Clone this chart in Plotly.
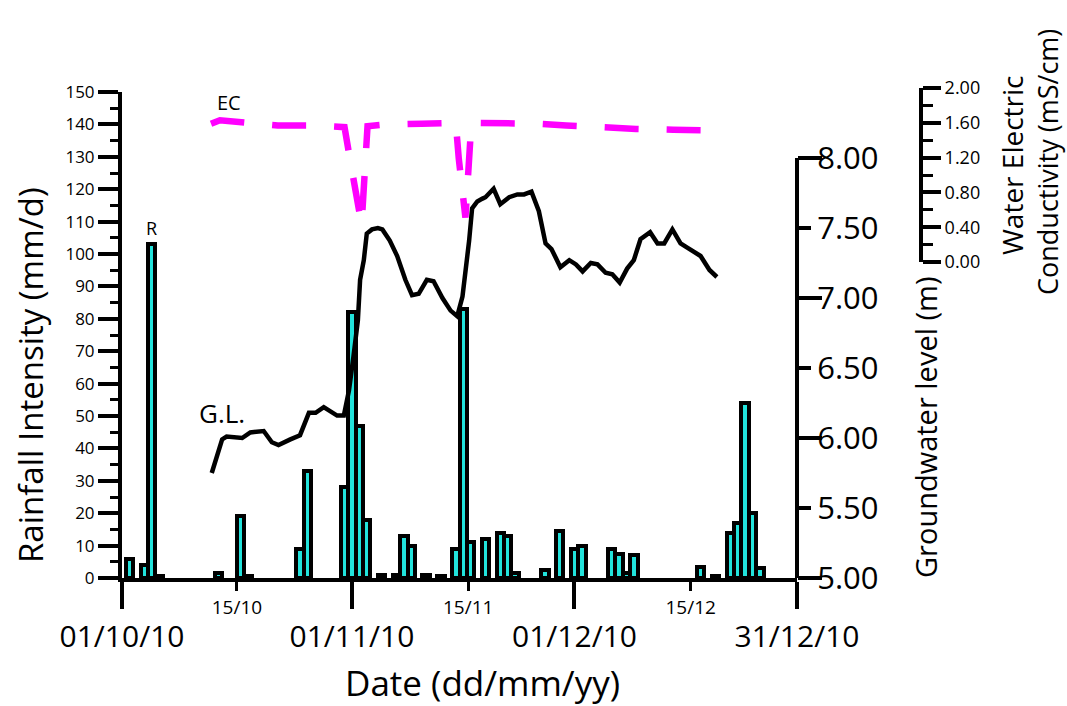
import pandas as pd
import plotly.graph_objects as go

# Daily rainfall (mm/d)
rain_dates = [
    "2010-10-02", "2010-10-04", "2010-10-05", "2010-10-06", "2010-10-14",
    "2010-10-17", "2010-10-18", "2010-10-25", "2010-10-26", "2010-10-31",
    "2010-11-01", "2010-11-02", "2010-11-03", "2010-11-05", "2010-11-07",
    "2010-11-08", "2010-11-09", "2010-11-11", "2010-11-13", "2010-11-15",
    "2010-11-16", "2010-11-17", "2010-11-19", "2010-11-21", "2010-11-22",
    "2010-11-23", "2010-11-27", "2010-11-29", "2010-12-01", "2010-12-02",
    "2010-12-06", "2010-12-07", "2010-12-08", "2010-12-09", "2010-12-18",
    "2010-12-20", "2010-12-22", "2010-12-23", "2010-12-24", "2010-12-25",
    "2010-12-26",
]
rain_mm = [
    6, 4, 103, 0.5, 1.5,
    19, 0.5, 9, 33, 28,
    82, 47, 18, 1, 0.8,
    13, 10, 1, 0.5, 9,
    83, 11, 12, 14, 13,
    1.5, 2.5, 14.5, 9, 10,
    9, 7.5, 1.5, 7, 3.5,
    0.5, 14, 17, 54, 20,
    3,
]

# Groundwater level (m), time in days after 01/10/2010
gl_days = [
    12.1, 13.5, 14.1, 16.2, 17.3, 19.1, 20.2, 21.1, 22.7, 24.0,
    25.2, 26.1, 27.2, 29.0, 29.9, 30.6, 31.2, 31.8, 32.1, 32.6,
    33.0, 33.7, 34.5, 35.1, 36.1, 37.1, 38.2, 39.1, 40.0, 41.1,
    42.0, 43.2, 44.3, 45.2, 45.9, 46.3, 46.8, 47.2, 47.9, 48.6,
    49.0, 50.1, 51.0, 52.2, 53.3, 54.2, 55.2, 56.2, 57.1, 57.9,
    59.1, 60.3, 61.2, 62.1, 63.2, 64.1, 65.2, 66.1, 67.1, 68.1,
    69.0, 69.9, 71.2, 72.2, 73.1, 74.2, 75.3, 76.2, 78.0, 79.2,
    80.2,
]
gl_m = [
    5.75, 5.99, 6.01, 6.00, 6.04, 6.05, 5.97, 5.95, 5.99, 6.02,
    6.18, 6.18, 6.22, 6.16, 6.16, 6.34, 6.58, 6.84, 7.13, 7.27,
    7.46, 7.49, 7.50, 7.49, 7.41, 7.30, 7.13, 7.02, 7.03, 7.13,
    7.12, 7.00, 6.91, 6.87, 7.01, 7.18, 7.41, 7.64, 7.69, 7.71,
    7.72, 7.78, 7.67, 7.72, 7.74, 7.74, 7.76, 7.62, 7.39, 7.35,
    7.22, 7.27, 7.24, 7.19, 7.25, 7.24, 7.18, 7.17, 7.11, 7.21,
    7.27, 7.42, 7.47, 7.39, 7.39, 7.49, 7.39, 7.36, 7.30, 7.20,
    7.15,
]

# Water electric conductivity (mS/cm), time in days after 01/10/2010
ec_days = [
    12.0, 13.2, 16.9, 21.0, 26.3, 30.0, 30.9, 32.3, 33.1, 35.5,
    40.4, 45.0, 45.4, 46.3, 47.1, 50.8, 55.9, 59.9, 65.0, 69.3,
    74.3, 80.3,
]
ec_ms = [
    1.59, 1.63, 1.60, 1.57, 1.57, 1.55, 1.10, 0.43, 1.56, 1.58,
    1.59, 1.60, 1.19, 0.51, 1.60, 1.60, 1.59, 1.57, 1.54, 1.53,
    1.52, 1.51,
]

x_range = ["2010-10-01", "2010-12-31"]
major_tick_dates = ["2010-10-01", "2010-11-01", "2010-12-01", "2010-12-31"]
major_tick_text = ["01/10/10", "01/11/10", "01/12/10", "31/12/10"]
mid_tick_dates = ["2010-10-16 12:00", "2010-11-16 16:00", "2010-12-16 16:00"]
mid_tick_text = ["15/10", "15/11", "15/12"]

FONT = "Open Sans"
W, H = 1067, 706


def px_x(p):
    return p / W


def px_y(p):
    return 1 - p / H


start = pd.Timestamp("2010-10-01")
gl_x = start + pd.to_timedelta(gl_days, unit="D")
ec_x = start + pd.to_timedelta(ec_days, unit="D")

fig = go.Figure()

fig.add_trace(go.Bar(
    x=rain_dates, y=rain_mm, width=86400000,
    marker=dict(color="#22e3dc", line=dict(color="black", width=4)),
    xaxis="x", yaxis="y", showlegend=False,
))
fig.add_trace(go.Scatter(
    x=gl_x, y=gl_m, mode="lines",
    line=dict(color="black", width=4.5),
    xaxis="x", yaxis="y2", showlegend=False,
))
fig.add_trace(go.Scatter(
    x=ec_x, y=ec_ms, mode="lines",
    line=dict(color="#ff00ff", width=6.5, dash="34px,28px"),
    xaxis="x", yaxis="y3", showlegend=False,
))
# helper traces so the overlay axes get drawn
fig.add_trace(go.Scatter(x=[x_range[0]], y=[0], mode="markers", marker=dict(opacity=0),
                         xaxis="x2", yaxis="y", showlegend=False, hoverinfo="skip"))
fig.add_trace(go.Scatter(x=[x_range[0]], y=[5], mode="markers", marker=dict(opacity=0),
                         xaxis="x", yaxis="y4", showlegend=False, hoverinfo="skip"))

x_dom = [px_x(122), px_x(797)]
axis_common = dict(showgrid=False, zeroline=False, linecolor="black", tickcolor="black",
                   showline=True, ticks="outside")

fig.update_layout(
    width=W, height=H, autosize=False,
    margin=dict(l=0, r=0, t=0, b=0, autoexpand=False),
    paper_bgcolor="white", plot_bgcolor="rgba(0,0,0,0)",
    font=dict(family=FONT, color="black"),
    bargap=0,
    xaxis=dict(
        **axis_common, type="date", range=x_range, domain=x_dom, anchor="y",
        tickmode="array", tickvals=major_tick_dates, ticktext=major_tick_text,
        ticklen=27, tickwidth=3.5, linewidth=4,
        tickfont=dict(size=30, family=FONT), ticklabelstandoff=2,
    ),
    xaxis2=dict(
        showgrid=False, zeroline=False, showline=False, ticks="outside",
        type="date", range=x_range, overlaying="x", anchor="y", side="bottom",
        tickmode="array", tickvals=mid_tick_dates, ticktext=mid_tick_text,
        ticklen=12, tickwidth=3, tickcolor="black",
        tickfont=dict(size=19, family=FONT),
    ),
    yaxis=dict(
        **axis_common, range=[0, 150], domain=[px_y(578), px_y(92)], anchor="x",
        tickmode="linear", tick0=0, dtick=10, ticklen=20, tickwidth=3.5, linewidth=4,
        minor=dict(dtick=5, tick0=0, ticklen=8, tickwidth=3, ticks="outside", tickcolor="black"),
        tickfont=dict(size=17, family=FONT),
    ),
    yaxis2=dict(
        **axis_common, range=[5, 8], domain=[px_y(578), px_y(158)],
        anchor="free", position=x_dom[1], side="right",
        tickmode="linear", tick0=5, dtick=0.5, tickformat=".2f",
        ticklen=12, tickwidth=3.5, linewidth=4,
        tickfont=dict(size=31, family=FONT),
    ),
    yaxis4=dict(
        showgrid=False, zeroline=False, showline=False, ticks="outside",
        range=[5, 8], overlaying="y2", anchor="free", position=x_dom[1], side="right",
        tickmode="linear", tick0=5, dtick=1, ticklen=24, tickwidth=3.5,
        tickcolor="black", showticklabels=False,
    ),
    yaxis3=dict(
        **axis_common, range=[0, 2], domain=[px_y(262), px_y(88)],
        anchor="free", position=px_x(921), side="right",
        tickmode="linear", tick0=0, dtick=0.4, tickformat=".2f",
        ticklen=18, tickwidth=3.5, linewidth=4,
        minor=dict(dtick=0.2, tick0=0, ticklen=10, tickwidth=3, ticks="outside", tickcolor="black"),
        tickfont=dict(size=18, family=FONT),
    ),
)

annotations = [
    dict(text="Rainfall Intensity (mm/d)", x=px_x(30), y=px_y(375), textangle=-90, size=33),
    dict(text="Groundwater level (m)", x=px_x(925), y=px_y(428), textangle=-90, size=29),
    dict(text="Water Electric", x=px_x(1012), y=px_y(165), textangle=-90, size=28),
    dict(text="Conductivity (mS/cm)", x=px_x(1048), y=px_y(162), textangle=-90, size=27),
    dict(text="Date (dd/mm/yy)", x=px_x(482), y=px_y(682), textangle=0, size=35),
    dict(text="G.L.", x=px_x(222), y=px_y(413), textangle=0, size=26),
    dict(text="EC", x=px_x(229), y=px_y(103), textangle=0, size=20),
]
for a in annotations:
    fig.add_annotation(
        text=a["text"], x=a["x"], y=a["y"], xref="paper", yref="paper",
        xanchor="center", yanchor="middle", textangle=a["textangle"],
        showarrow=False, font=dict(size=a["size"], family=FONT, color="black"),
    )

# label over the tallest rainfall bar
peak = rain_mm.index(max(rain_mm))
fig.add_annotation(
    text="R", x=rain_dates[peak], y=rain_mm[peak], xref="x", yref="y",
    yanchor="bottom", showarrow=False, yshift=2,
    font=dict(size=18, family=FONT, color="black"),
)

fig.write_html("out.html")
